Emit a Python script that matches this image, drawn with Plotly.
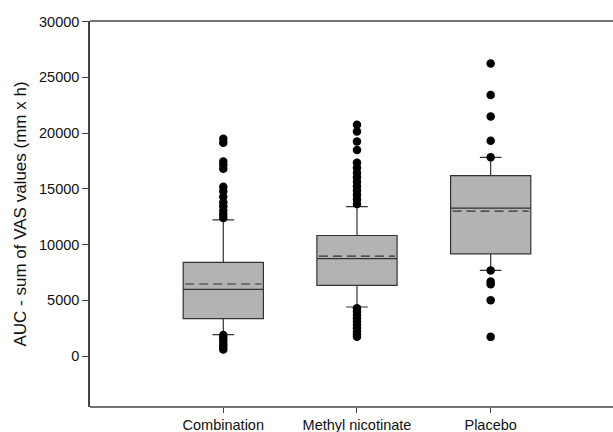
import plotly.graph_objects as go

categories = ["Combination", "Methyl nicotinate", "Placebo"]
positions = [1, 2, 3]
q1 = [3370, 6350, 9180]
median = [5990, 8740, 13270]
q3 = [8410, 10820, 16190]
mean = [6470, 8970, 13000]
lower_whisker = [1940, 4410, 7690]
upper_whisker = [12230, 13420, 17830]

outliers = [
    [19500, 19150, 17450, 17150, 16800, 15200, 14800, 14300, 13800, 13450, 13050, 12700, 12400,
     1900, 1650, 1400, 1100, 850, 600],
    [20750, 20150, 19250, 18500, 17350, 16900, 16450, 16050, 15650, 15250, 14850, 14450, 14050, 13650,
     4300, 4000, 3700, 3400, 3100, 2800, 2500, 2200, 1950, 1750],
    [26240, 23430, 21490, 19320, 17830, 7690, 6700, 6450, 5010, 1730],
]

box_width = 0.6
mean_half = box_width / 2 * 0.95

fig = go.Figure()
for i, cat in enumerate(categories):
    fig.add_trace(go.Box(
        x=[positions[i]], q1=[q1[i]], median=[median[i]], q3=[q3[i]],
        lowerfence=[lower_whisker[i]], upperfence=[upper_whisker[i]],
        width=box_width, whiskerwidth=0.27,
        fillcolor="#b3b3b3", line=dict(color="#333333", width=1.2),
        boxpoints=False, showlegend=False, name=cat,
    ))
    fig.add_trace(go.Scatter(
        x=[positions[i] - mean_half, positions[i] + mean_half], y=[mean[i], mean[i]],
        mode="lines", line=dict(color="#333333", width=1.2, dash="9px,5px"),
        showlegend=False, hoverinfo="skip",
    ))
    fig.add_trace(go.Scatter(
        x=[positions[i]] * len(outliers[i]), y=outliers[i], mode="markers",
        marker=dict(color="black", size=8.5), showlegend=False,
    ))

axis_line = dict(color="#444444", width=1.5)
for yp in (0, 1):
    fig.add_shape(type="line", xref="paper", yref="paper", x0=0, x1=1.02, y0=yp, y1=yp,
                  line=axis_line, layer="above")

font = "Liberation Sans, Arial, sans-serif"
fig.update_layout(
    width=613, height=432,
    margin=dict(l=90, r=0, t=21, b=25),
    paper_bgcolor="white", plot_bgcolor="white",
    font=dict(family=font, size=14.5, color="#111111"),
    xaxis=dict(
        range=[0.003, 3.915], tickvals=positions, ticktext=categories,
        showline=False, mirror=False,
        ticks="outside", ticklen=5, tickcolor="#444444", tickwidth=1,
        showgrid=False, zeroline=False,
    ),
    yaxis=dict(
        range=[-4560, 30060], tick0=0, dtick=5000, tickformat="d",
        showline=True, linecolor="#444444", linewidth=1.5, mirror=False,
        ticks="outside", ticklen=6, tickcolor="#444444", tickwidth=1,
        showgrid=False, zeroline=False,
        title=dict(text="AUC - sum of VAS values (mm x h)", font=dict(size=17), standoff=8),
    ),
)
fig.write_html(
    "out.html", config={"displayModeBar": False},
    post_script=("document.body.style.margin='0';"
                 "document.body.style.overflow='hidden';"
                 "document.documentElement.style.overflow='hidden';"),
)
